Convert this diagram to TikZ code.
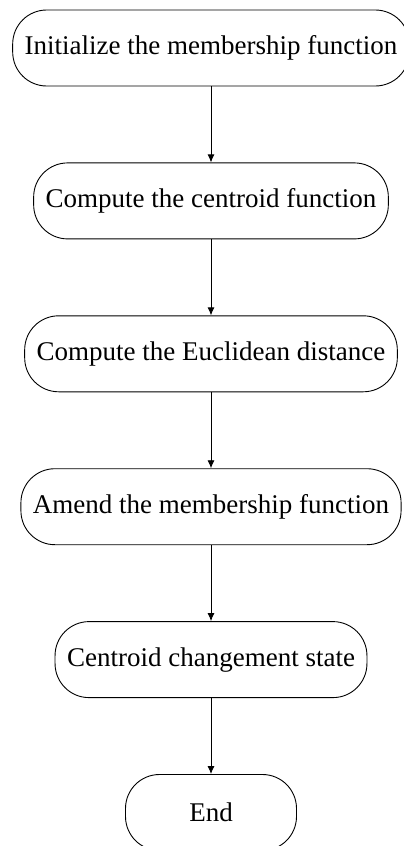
\documentclass[tikz,border=0pt]{standalone}
\usepackage{fontspec}
\setmainfont{Liberation Serif}
\usepackage{tikz}
\usetikzlibrary{positioning,arrows.meta}

\begin{document}
\begin{tikzpicture}[->,>={Latex[length=8pt,width=7pt]},line width=0.9pt,
            node distance=76pt,
            stepnode/.style={rectangle,rounded corners=34pt,draw,minimum height=76pt,
              inner xsep=12pt,font=\fontsize{27}{32}\selectfont}]
            \useasboundingbox (0,0) rectangle (404pt,-846pt);

            \node[stepnode] (init) at (211pt,-48pt) {Initialize the membership function};
            \node[stepnode] (centroid) [below=of init] {Compute the centroid function};
            \node[stepnode] (dist) [below=of centroid] {Compute the Euclidean distance};
            \node[stepnode] (amend) [below=of dist] {Amend the membership function};
            \node[stepnode] (state) [below=of amend] {Centroid changement state};
            \node[stepnode,minimum width=171pt] (end) [below=of state] {End};

            \draw (init) -- (centroid);
            \draw (centroid) -- (dist);
            \draw (dist) -- (amend);
            \draw (amend) -- (state);
            \draw (state) -- (end);
          \end{tikzpicture}
\end{document}
